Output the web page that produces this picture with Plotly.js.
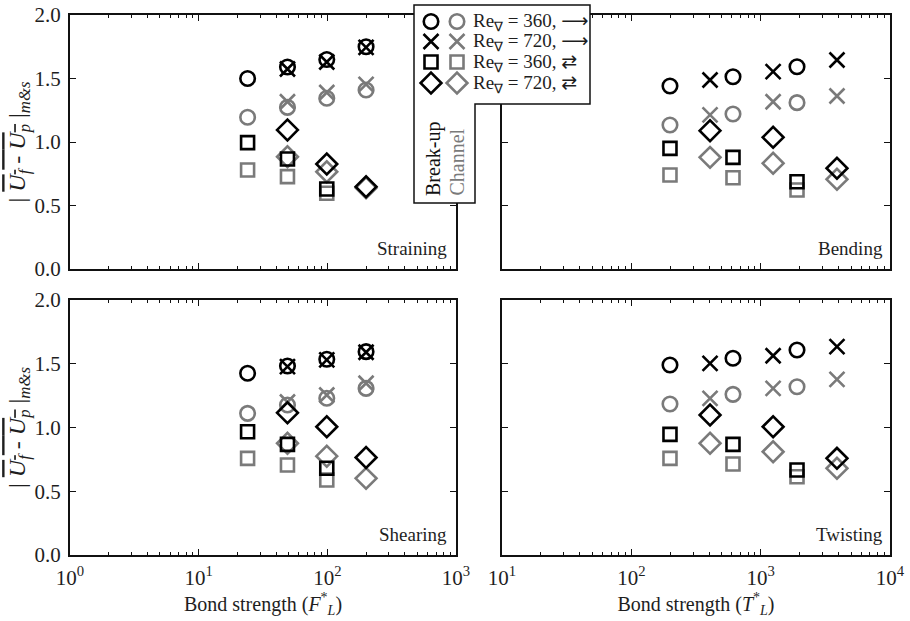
<!DOCTYPE html>
<html>
<head>
<meta charset="utf-8">
<script src="https://cdn.plot.ly/plotly-3.0.1.min.js"></script>
<style>html,body{margin:0;padding:0;background:#fff;}#chart{width:910px;height:621px;}</style>
</head>
<body>
<div id="chart"></div>
<script>
// ---------------- data ----------------
// bond strength (x) positions
const fL_re360_circ = [24, 49, 99, 200];
const fL_re360_sq = [24, 49, 99];
const fL_re720 = [49, 99, 200];
const tL_re360 = [199, 611, 1910];
const tL_re720 = [406, 1248, 3890];

// Straining (top-left)
const str_bu_circ = [1.50, 1.59, 1.65, 1.75];
const str_ch_circ = [1.195, 1.273, 1.344, 1.41];
const str_bu_x = [1.575, 1.63, 1.745];
const str_ch_x = [1.317, 1.39, 1.454];
const str_bu_sq = [0.995, 0.866, 0.63];
const str_ch_sq = [0.78, 0.727, 0.596];
const str_bu_dia = [1.095, 0.827, 0.648];
const str_ch_dia = [0.884, 0.766, 0.64];

// Bending (top-right)
const ben_bu_circ = [1.441, 1.514, 1.593];
const ben_ch_circ = [1.134, 1.22, 1.31];
const ben_bu_x = [1.488, 1.554, 1.646];
const ben_ch_x = [1.213, 1.317, 1.362];
const ben_bu_sq = [0.95, 0.879, 0.687];
const ben_ch_sq = [0.74, 0.719, 0.622];
const ben_bu_dia = [1.089, 1.037, 0.793];
const ben_ch_dia = [0.879, 0.832, 0.706];

// Shearing (bottom-left)
const shr_bu_circ = [1.425, 1.482, 1.535, 1.595];
const shr_ch_circ = [1.111, 1.176, 1.229, 1.307];
const shr_bu_x = [1.478, 1.53, 1.59];
const shr_ch_x = [1.20, 1.255, 1.347];
const shr_bu_sq = [0.967, 0.868, 0.68];
const shr_ch_sq = [0.758, 0.706, 0.588];
const shr_bu_dia = [1.115, 1.006, 0.765];
const shr_ch_dia = [0.876, 0.775, 0.601];

// Twisting (bottom-right)
const twi_bu_circ = [1.49, 1.543, 1.608];
const twi_ch_circ = [1.184, 1.26, 1.32];
const twi_bu_x = [1.503, 1.563, 1.634];
const twi_ch_x = [1.229, 1.307, 1.378];
const twi_bu_sq = [0.946, 0.868, 0.667];
const twi_ch_sq = [0.758, 0.714, 0.614];
const twi_bu_dia = [1.098, 1.006, 0.758];
const twi_ch_dia = [0.876, 0.81, 0.68];

const panelNames = ["Straining", "Bending", "Shearing", "Twisting"];
const legendValues = ["360", "720", "360", "720"];
const legendArrows = ["⟶", "⟶", "⇄", "⇄"];
const yTicks = [0, 0.5, 1.0, 1.5, 2.0];
const yTickText = ["0.0", "0.5", "1.0", "1.5", "2.0"];

// ---------------- styling ----------------
const BLACK = "#000000";
const GRAY = "#7a7a7a";
const FONT = "Liberation Serif";
const W = 910, H = 621;
const symbols = {circ: "circle-open", x: "x-thin-open", sq: "square-open", dia: "diamond-open"};
const sizes = {circ: 14.5, x: 15, sq: 13, dia: 16};

function tr(x, y, kind, color, ax) {
  return {
    type: "scatter", mode: "markers", x: x, y: y,
    xaxis: "x" + ax, yaxis: "y" + ax, showlegend: false, hoverinfo: "skip",
    marker: {symbol: symbols[kind], size: sizes[kind], color: color,
             line: {color: color, width: 2.6}}
  };
}

function panel(ax, xc, xs, x7, d) {
  return [
    tr(xc, d.ch_circ, "circ", GRAY, ax),
    tr(x7, d.ch_x, "x", GRAY, ax),
    tr(xs, d.ch_sq, "sq", GRAY, ax),
    tr(x7, d.ch_dia, "dia", GRAY, ax),
    tr(xc, d.bu_circ, "circ", BLACK, ax),
    tr(x7, d.bu_x, "x", BLACK, ax),
    tr(xs, d.bu_sq, "sq", BLACK, ax),
    tr(x7, d.bu_dia, "dia", BLACK, ax)
  ];
}

let data = [];
data = data.concat(panel("", fL_re360_circ, fL_re360_sq, fL_re720, {
  ch_circ: str_ch_circ, ch_x: str_ch_x, ch_sq: str_ch_sq, ch_dia: str_ch_dia,
  bu_circ: str_bu_circ, bu_x: str_bu_x, bu_sq: str_bu_sq, bu_dia: str_bu_dia}));
data = data.concat(panel("2", tL_re360, tL_re360, tL_re720, {
  ch_circ: ben_ch_circ, ch_x: ben_ch_x, ch_sq: ben_ch_sq, ch_dia: ben_ch_dia,
  bu_circ: ben_bu_circ, bu_x: ben_bu_x, bu_sq: ben_bu_sq, bu_dia: ben_bu_dia}));
data = data.concat(panel("3", fL_re360_circ, fL_re360_sq, fL_re720, {
  ch_circ: shr_ch_circ, ch_x: shr_ch_x, ch_sq: shr_ch_sq, ch_dia: shr_ch_dia,
  bu_circ: shr_bu_circ, bu_x: shr_bu_x, bu_sq: shr_bu_sq, bu_dia: shr_bu_dia}));
data = data.concat(panel("4", tL_re360, tL_re360, tL_re720, {
  ch_circ: twi_ch_circ, ch_x: twi_ch_x, ch_sq: twi_ch_sq, ch_dia: twi_ch_dia,
  bu_circ: twi_bu_circ, bu_x: twi_bu_x, bu_sq: twi_bu_sq, bu_dia: twi_bu_dia}));

// legend markers (overlay axis in pixel units)
const legRowsY = [21.5, 41.5, 62, 83];
const legKinds = ["circ", "x", "sq", "dia"];
legKinds.forEach((k, i) => {
  data.push(tr([457], [legRowsY[i]], k, GRAY, "5"));
  data.push(tr([431], [legRowsY[i]], k, BLACK, "5"));
});

// ---------------- axes ----------------
const LX = [70, 456], RX = [502, 890];
const TY = [15, 269], BY = [300, 555];
const dx = p => [p[0] / W, p[1] / W];
const dy = p => [1 - p[1] / H, 1 - p[0] / H];

function minorVals(lo, hi) {
  const v = [];
  for (let e = lo; e < hi; e++) for (let m = 2; m <= 9; m++) v.push(m * Math.pow(10, e));
  return v;
}
function decVals(lo, hi) { const v = []; for (let e = lo; e <= hi; e++) v.push(Math.pow(10, e)); return v; }
function decText(lo, hi) { const v = []; for (let e = lo; e <= hi; e++) v.push("10<sup>" + e + "</sup>"); return v; }

const TXT = "#1e1e1e";
const tickFont = {family: FONT, size: 21, color: TXT};
function xax(domain, lo, hi, anchor, labels, title) {
  const a = {
    domain: dx(domain), type: "log", range: [lo, hi], anchor: anchor,
    showline: true, linecolor: "#111", linewidth: 2, mirror: "allticks",
    ticks: "inside", ticklen: 6, tickwidth: 1, tickcolor: "#111",
    tickvals: decVals(lo, hi), ticktext: decText(lo, hi),
    showticklabels: labels, tickfont: tickFont, ticklabelstandoff: 3,
    showgrid: false, zeroline: false, fixedrange: true,
    minor: {tickvals: minorVals(lo, hi), ticks: "inside", ticklen: 3, tickwidth: 1, tickcolor: "#111", showgrid: false}
  };
  if (title) a.title = {text: title, font: {family: FONT, size: 20, color: TXT}, standoff: 2};
  return a;
}
const yTitle = "| <span style='text-decoration:overline'><i>U</i><sub><i>f</i></sub> - <i>U</i><sub><i>p</i></sub></span> |<sub><i>m&amp;s</i></sub>";
function yax(domain, anchor, labels) {
  const a = {
    domain: dy(domain), range: [0, 2], anchor: anchor,
    showline: true, linecolor: "#111", linewidth: 2, mirror: "allticks",
    ticks: "inside", ticklen: 6, tickwidth: 1, tickcolor: "#111",
    tickvals: yTicks, ticktext: yTickText,
    showticklabels: labels, tickfont: tickFont, ticklabelstandoff: 3,
    showgrid: false, zeroline: false, fixedrange: true
  };
  if (labels) a.title = {text: yTitle, font: {family: FONT, size: 24, color: TXT}, standoff: 2};
  return a;
}

const layout = {
  width: W, height: H,
  margin: {l: 0, r: 0, t: 0, b: 0},
  paper_bgcolor: "#fff", plot_bgcolor: "rgba(0,0,0,0)",
  font: {family: FONT, size: 19, color: TXT},
  showlegend: false,
  xaxis: xax(LX, 0, 3, "y", false),
  yaxis: yax(TY, "x", true),
  xaxis2: xax(RX, 1, 4, "y2", false),
  yaxis2: yax(TY, "x2", false),
  xaxis3: xax(LX, 0, 3, "y3", true, "Bond strength (<i>F</i><sup>*</sup><sub><i>L</i></sub>)"),
  yaxis3: yax(BY, "x3", true),
  xaxis4: xax(RX, 1, 4, "y4", true, "Bond strength (<i>T</i><sup>*</sup><sub><i>L</i></sub>)"),
  yaxis4: yax(BY, "x4", false),
  xaxis5: {domain: [0, 1], range: [0, W], visible: false, anchor: "y5", fixedrange: true},
  yaxis5: {domain: [0, 1], range: [H, 0], visible: false, anchor: "x5", fixedrange: true},
  shapes: [{
    type: "path", xref: "x5", yref: "y5", layer: "below",
    path: "M 414 5 L 590 5 L 590 104 L 475 104 L 475 203 L 414 203 Z",
    fillcolor: "#fff", line: {color: "#111", width: 1.5}
  }],
  annotations: []
};

// panel labels
const labelPos = [[LX[1] - 7, TY[1] - 8], [RX[1] - 5, TY[1] - 8],
                  [LX[1] - 7, BY[1] - 8], [RX[1] - 5, BY[1] - 8]];
panelNames.forEach((n, i) => {
  layout.annotations.push({
    text: n, xref: "x5", yref: "y5", x: labelPos[i][0], y: labelPos[i][1],
    xanchor: "right", yanchor: "bottom", showarrow: false,
    font: {family: FONT, size: 19, color: TXT}
  });
});
// legend texts
legendValues.forEach((v, i) => {
  layout.annotations.push({
    text: "Re<sub><span style='font-family:DejaVu Sans'>∇</span></sub> = " + v +
          ", <span style='font-family:DejaVu Sans'>" + legendArrows[i] + "</span>",
    xref: "x5", yref: "y5", x: 471, y: legRowsY[i],
    xanchor: "left", yanchor: "middle", showarrow: false,
    font: {family: FONT, size: 19, color: TXT}
  });
});
layout.annotations.push({
  text: "Break-up", xref: "x5", yref: "y5", x: 433, y: 198, textangle: -90,
  xanchor: "center", yanchor: "bottom", showarrow: false,
  font: {family: FONT, size: 20, color: "#111"}
});
layout.annotations.push({
  text: "Channel", xref: "x5", yref: "y5", x: 456, y: 198, textangle: -90,
  xanchor: "center", yanchor: "bottom", showarrow: false,
  font: {family: FONT, size: 20, color: GRAY}
});

Plotly.newPlot("chart", data, layout, {staticPlot: true, displayModeBar: false});
</script>
</body>
</html>
